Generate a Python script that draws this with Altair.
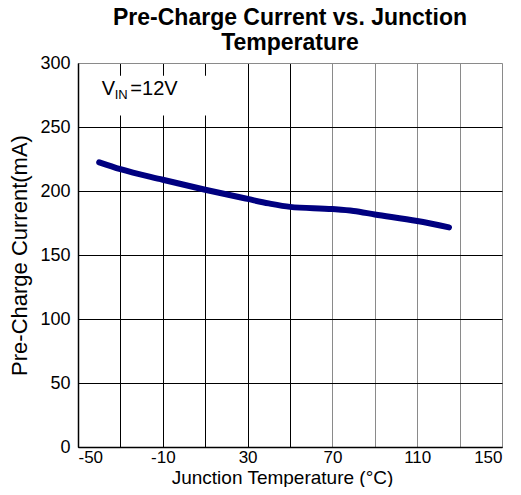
import altair as alt
import pandas as pd

# Data
temps = [-40, -30, -10, 10, 30, 40, 50, 70, 80, 90, 110, 125]
currents = [222.4, 217.0, 208.8, 201.0, 193.8, 190.3, 187.6, 185.9, 184.4, 181.7, 176.6, 171.6]

x_ticks = [-50, -30, -10, 10, 30, 50, 70, 90, 110, 130, 150]
y_ticks = [0, 50, 100, 150, 200, 250, 300]

FONT = "Liberation Sans"

df = pd.DataFrame({"t": temps, "i": currents})

# annotation box (data units)
box = pd.DataFrame({"x": [-48.5], "x2": [12.0], "y": [259.0], "y2": [290.0]})
ann_main = pd.DataFrame({"x": [-38.8], "y": [275.0], "txt": ["V"]})
ann_sub = pd.DataFrame({"x": [-32.7], "y": [271.5], "txt": ["IN"]})
ann_rest = pd.DataFrame({"x": [-25.3], "y": [275.0], "txt": ["=12V"]})

xscale = alt.Scale(domain=[-50, 150], nice=False, zero=False)
yscale = alt.Scale(domain=[0, 300], nice=False)

xaxis = alt.Axis(
    values=x_ticks,
    labelExpr="(datum.value + 50) % 40 == 0 ? toString(datum.value) : ''",
    title="Junction Temperature (°C)",
    grid=True,
    gridColor={"condition": {"test": "datum.value >= 70", "value": "#8a8a8a"}, "value": "#000000"},
    gridWidth=1,
    ticks=False,
    domainColor="#000000",
    domainWidth=1.5,
    labelFont=FONT,
    labelFontSize=17,
    labelColor="#000000",
    labelPadding=2,
    titleFont=FONT,
    titleFontSize=19,
    titleFontWeight="normal",
    titleColor="#000000",
    titleBaseline="alphabetic",
    titleAlign="center",
    titleAnchor="start",
    titleX=204,
    titleY=36,
)
yaxis = alt.Axis(
    values=y_ticks,
    labelExpr="toString(datum.value)",
    title="Pre-Charge Current(mA)",
    grid=True,
    gridColor={"condition": {"test": "datum.value >= 300", "value": "#8a8a8a"}, "value": "#000000"},
    gridWidth=1,
    ticks=False,
    domainColor="#000000",
    domainWidth=1.5,
    labelFont=FONT,
    labelFontSize=18,
    labelColor="#000000",
    labelPadding=8,
    titleFont=FONT,
    titleFontSize=22,
    titleFontWeight="normal",
    titleColor="#000000",
    titlePadding=8,
)

line = alt.Chart(df).mark_line(
    color="#000080", strokeWidth=6, interpolate="monotone", strokeCap="round"
).encode(
    x=alt.X("t:Q", scale=xscale, axis=xaxis),
    y=alt.Y("i:Q", scale=yscale, axis=yaxis),
)

rect = alt.Chart(box).mark_rect(color="white").encode(
    x=alt.X("x:Q", scale=xscale), x2="x2", y=alt.Y("y:Q", scale=yscale), y2="y2"
)

t1 = alt.Chart(ann_main).mark_text(align="left", baseline="alphabetic", font=FONT, fontSize=20, color="black").encode(
    x=alt.X("x:Q", scale=xscale), y=alt.Y("y:Q", scale=yscale), text="txt:N"
)
t2 = alt.Chart(ann_sub).mark_text(align="left", baseline="alphabetic", font=FONT, fontSize=13, color="black").encode(
    x=alt.X("x:Q", scale=xscale), y=alt.Y("y:Q", scale=yscale), text="txt:N"
)
t3 = alt.Chart(ann_rest).mark_text(align="left", baseline="alphabetic", font=FONT, fontSize=20, color="black").encode(
    x=alt.X("x:Q", scale=xscale), y=alt.Y("y:Q", scale=yscale), text="txt:N"
)

chart = alt.layer(rect, line, t1, t2, t3).properties(
    width=424,
    height=384,
    title=alt.TitleParams(
        text=["Pre-Charge Current vs. Junction", "Temperature"],
        font=FONT,
        fontSize=23,
        fontWeight="bold",
        color="#000000",
        lineHeight=25,
        anchor="middle",
        offset=-1,
    ),
    autosize=alt.AutoSizeParams(type="none"),
    padding={"left": 70, "top": 55, "right": 11, "bottom": 40},
).configure_view(
    stroke="#8a8a8a", strokeWidth=1.5
).configure(background="white")

chart.save("out.html", embed_options={"renderer": "svg", "actions": False})
